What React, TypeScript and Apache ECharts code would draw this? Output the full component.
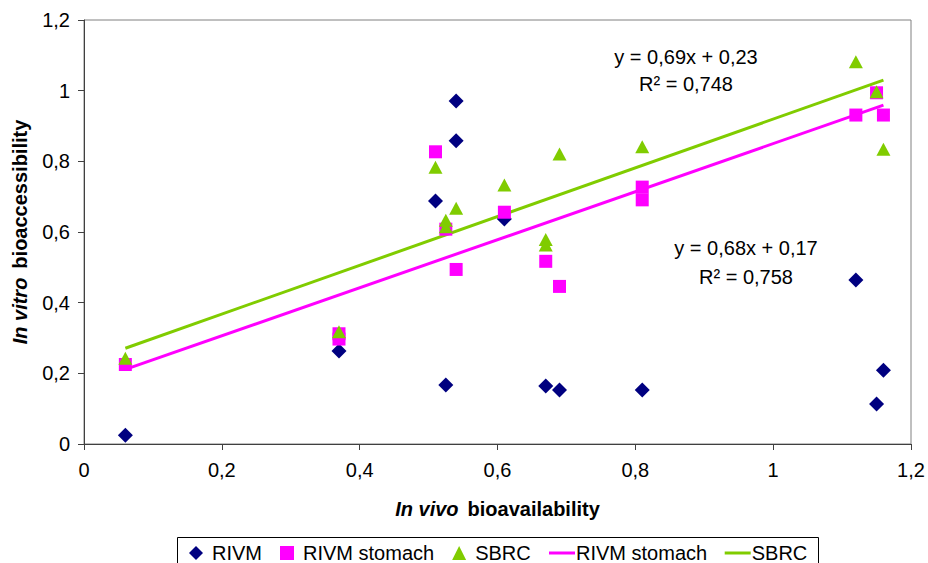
import React, { useEffect, useRef } from "react";
import * as echarts from "echarts";

const rivmX = [0.06, 0.37, 0.51, 0.525, 0.54, 0.54, 0.61, 0.67, 0.69, 0.81, 1.12, 1.15, 1.16];
const rivmY = [0.025, 0.263, 0.688, 0.167, 0.971, 0.858, 0.637, 0.164, 0.153, 0.153, 0.464, 0.113, 0.209];

const stomachX = [0.06, 0.37, 0.37, 0.51, 0.525, 0.54, 0.61, 0.67, 0.69, 0.81, 0.81, 1.12, 1.15, 1.16];
const stomachY = [0.225, 0.312, 0.297, 0.827, 0.608, 0.494, 0.656, 0.517, 0.446, 0.727, 0.691, 0.931, 0.994, 0.931];

const sbrcX = [0.06, 0.37, 0.51, 0.525, 0.525, 0.54, 0.61, 0.67, 0.67, 0.69, 0.81, 1.12, 1.15, 1.16];
const sbrcY = [0.243, 0.318, 0.783, 0.633, 0.615, 0.667, 0.733, 0.579, 0.563, 0.821, 0.841, 1.082, 0.997, 0.834];

const fitX = [0.06, 1.16];
const stomachFitY = [0.211, 0.959];
const sbrcFitY = [0.271, 1.03];

const sbrcEq = ["y = 0,69x + 0,23", "R² = 0,748"];
const stomachEq = ["y = 0,68x + 0,17", "R² = 0,758"];

const FONT = "'Liberation Sans', Arial, Helvetica, sans-serif";
const NAVY = "#000080";
const MAGENTA = "#FF00FF";
const GREEN = "#80CC00";

const zip = (xs: number[], ys: number[]) => xs.map((x, i) => [x, ys[i]]);
const fmt = (v: number) => String(Math.round(v * 10) / 10).replace(".", ",");

export default function App() {
  const ref = useRef<HTMLDivElement>(null);
  useEffect(() => {
    document.body.style.margin = "0";
    const chart = echarts.init(ref.current!, null, { renderer: "svg" });
    const axisCommon = {
      type: "value" as const,
      min: 0,
      max: 1.2,
      interval: 0.2,
      splitLine: { show: false },
      axisLine: { show: true, lineStyle: { color: "#404040", width: 1 } },
      axisTick: { show: true, length: 6, lineStyle: { color: "#404040" } },
      axisLabel: { color: "#000", fontSize: 20, fontFamily: FONT, formatter: fmt },
    };
    const textEl = (x: number, y: number, t: string) => ({
      type: "text",
      x,
      y,
      style: {
        text: t,
        fontSize: 20,
        fontFamily: FONT,
        fill: "#000",
        align: "center",
        verticalAlign: "middle",
      },
    });
    chart.setOption({
      animation: false,
      backgroundColor: "#fff",
      grid: {
        left: 84,
        right: 17,
        top: 20,
        bottom: 119,
        show: true,
        borderColor: "#808080",
        borderWidth: 1,
      },
      xAxis: {
        ...axisCommon,
        axisLabel: { ...axisCommon.axisLabel, margin: 16 },
        name: "{i|In vivo}{b|bioavailability}",
        nameLocation: "middle",
        nameGap: 55,
        nameTextStyle: {
          rich: {
            i: { fontStyle: "italic", fontWeight: "bold", fontSize: 20, fontFamily: FONT, color: "#000", padding: [0, 9, 0, 0] },
            b: { fontWeight: "bold", fontSize: 20, fontFamily: FONT, color: "#000" },
          },
        },
      },
      yAxis: {
        ...axisCommon,
        axisLabel: { ...axisCommon.axisLabel, margin: 14 },
        name: "{i|In vitro}{b|bioaccessibility}",
        nameLocation: "middle",
        nameGap: 54,
        nameRotate: 90,
        nameTextStyle: {
          rich: {
            i: { fontStyle: "italic", fontWeight: "bold", fontSize: 20, fontFamily: FONT, color: "#000", padding: [0, 9, 0, 0] },
            b: { fontWeight: "bold", fontSize: 20, fontFamily: FONT, color: "#000" },
          },
        },
      },
      legend: [
        {
          left: 189,
          top: 543,
          padding: 0,
          itemWidth: 14,
          itemHeight: 14,
          itemGap: 18,
          textStyle: { fontSize: 20, fontFamily: FONT, color: "#000", padding: [0, 0, 0, 4] },
          data: [
            { name: "RIVM", icon: "diamond" },
            { name: "RIVM stomach", icon: "rect" },
            { name: "SBRC", icon: "triangle" },
          ],
        },
        {
          left: 549,
          top: 543,
          padding: 0,
          itemWidth: 26,
          itemHeight: 3,
          itemGap: 12,
          textStyle: { fontSize: 20, fontFamily: FONT, color: "#000", padding: [0, 0, 0, -4] },
          data: [
            { name: "RIVM stomach ", icon: "rect" },
            { name: "SBRC ", icon: "rect" },
          ],
        },
      ],
      graphic: [
        {
          type: "rect",
          shape: { x: 177.5, y: 537.5, width: 641, height: 40 },
          style: { fill: "none", stroke: "#000", lineWidth: 1 },
          silent: true,
        },
        textEl(686, 57, sbrcEq[0]),
        textEl(686, 84, sbrcEq[1]),
        textEl(746, 248, stomachEq[0]),
        textEl(746, 277, stomachEq[1]),
      ],
      series: [
        {
          name: "RIVM stomach ",
          type: "line",
          data: zip(fitX, stomachFitY),
          symbol: "none",
          lineStyle: { color: MAGENTA, width: 3 },
          itemStyle: { color: MAGENTA },
          z: 1,
        },
        {
          name: "SBRC ",
          type: "line",
          data: zip(fitX, sbrcFitY),
          symbol: "none",
          lineStyle: { color: GREEN, width: 3 },
          itemStyle: { color: GREEN },
          z: 1,
        },
        {
          name: "RIVM",
          type: "scatter",
          data: zip(rivmX, rivmY),
          symbol: "diamond",
          symbolSize: 15,
          itemStyle: { color: NAVY, opacity: 1 },
          z: 2,
        },
        {
          name: "RIVM stomach",
          type: "scatter",
          data: zip(stomachX, stomachY),
          symbol: "rect",
          symbolSize: 13,
          itemStyle: { color: MAGENTA, opacity: 1 },
          z: 3,
        },
        {
          name: "SBRC",
          type: "scatter",
          data: zip(sbrcX, sbrcY),
          symbol: "triangle",
          symbolSize: [14, 13],
          itemStyle: { color: GREEN, opacity: 1 },
          z: 4,
        },
      ],
    });
    return () => chart.dispose();
  }, []);
  return <div ref={ref} style={{ width: 928, height: 563 }} />;
}
